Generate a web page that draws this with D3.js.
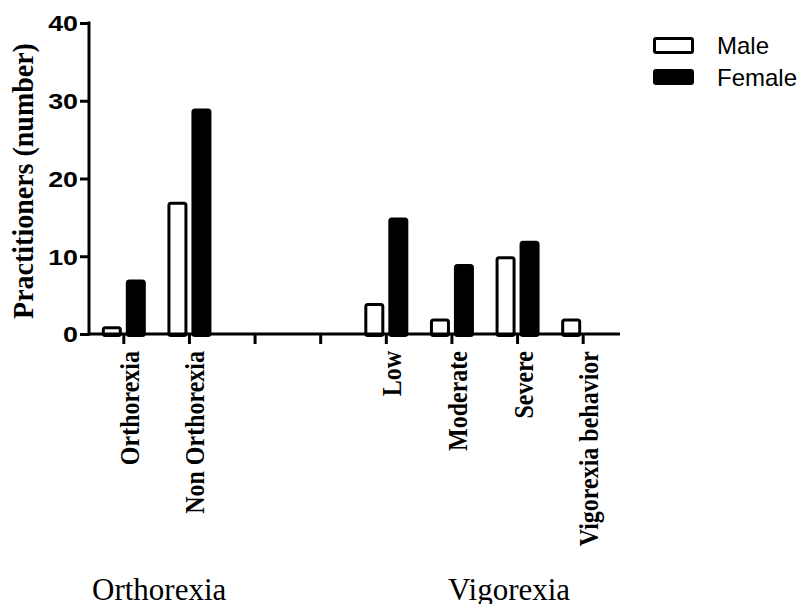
<!DOCTYPE html>
<html>
<head>
<meta charset="utf-8">
<script src="https://cdn.jsdelivr.net/npm/d3@7"></script>
<style>
  html, body { margin: 0; padding: 0; background: #fff; }
  svg { display: block; }
</style>
</head>
<body>
<svg id="chart" width="808" height="604"></svg>
<script>
// ---- data ----
const slots = ["Orthorexia", "Non Orthorexia", "_gap1", "_gap2", "Low", "Moderate", "Severe", "Vigorexia behavior"];
const maleValues   = [1, 17, null, null, 4, 2, 10, 2];
const femaleValues = [7, 29, null, null, 15, 9, 12, 0];
const seriesNames = ["Male", "Female"];
const yTicks = [0, 10, 20, 30, 40];
const groupLabels = ["Orthorexia", "Vigorexia"];

// ---- layout ----
const svg = d3.select("#chart");
const x = d3.scaleBand().domain(slots).range([91, 616]).paddingInner(0).paddingOuter(0);
const y = d3.scaleLinear().domain([0, 40]).range([334, 23]);
const axisX0 = 88, axisX1 = 620;
const serif = "'Liberation Serif', 'Times New Roman', serif";
const sans = "'Liberation Sans', Arial, sans-serif";

// bars
const barData = [];
slots.forEach((s, i) => {
  if (maleValues[i] != null && maleValues[i] > 0) barData.push({slot: s, series: 0, value: maleValues[i]});
  if (femaleValues[i] != null && femaleValues[i] > 0) barData.push({slot: s, series: 1, value: femaleValues[i]});
});
const sw = 3;
svg.append("g").selectAll("rect").data(barData).join("rect")
  .attr("x", d => {
    const c = x(d.slot) + x.bandwidth() / 2;
    return d.series === 0 ? c - 22 + sw / 2 : c + 2 + sw / 2;
  })
  .attr("y", d => y(d.value) + sw / 2)
  .attr("width", 20 - sw)
  .attr("height", d => y(0) - y(d.value))
  .attr("rx", 2)
  .attr("fill", d => d.series === 0 ? "#fff" : "#000")
  .attr("stroke", "#000")
  .attr("stroke-width", sw);

// y axis
const yAxis = d3.axisLeft(y).tickValues(yTicks).tickSize(9).tickPadding(3);
const gy = svg.append("g").attr("transform", `translate(89,0)`).call(yAxis);
gy.select(".domain").remove();
gy.append("line").attr("x1", 0).attr("x2", 0).attr("y1", y(40) - 1.5).attr("y2", y(0) + 1.5)
  .attr("stroke", "#000").attr("stroke-width", sw);
gy.selectAll(".tick line").attr("stroke", "#000").attr("stroke-width", sw);
gy.selectAll(".tick text")
  .attr("font-family", sans).attr("font-weight", "bold").attr("font-size", 22)
  .attr("fill", "#000").attr("dy", "0.36em")
  .attr("x", -11 / 1.22)
  .attr("transform", "scale(1.22,1)");

// x axis
const xAxis = d3.axisBottom(x).tickSize(10).tickFormat(() => "");
const gx = svg.append("g").attr("transform", `translate(0,${y(0)})`).call(xAxis);
gx.select(".domain").remove();
gx.append("line").attr("x1", axisX0).attr("x2", axisX1).attr("y1", 0).attr("y2", 0)
  .attr("stroke", "#000").attr("stroke-width", sw);
gx.selectAll(".tick line").attr("stroke", "#000").attr("stroke-width", sw);

// category labels (rotated)
svg.append("g").selectAll("text").data(slots.filter(s => !s.startsWith("_"))).join("text")
  .attr("transform", d => `translate(${x(d) + x.bandwidth() / 2 + 15},351) rotate(-90) scale(1,1.1)`)
  .attr("text-anchor", "end")
  .attr("font-family", serif).attr("font-weight", "bold").attr("font-size", 24)
  .attr("fill", "#000")
  .text(d => d);

// y axis title
svg.append("text")
  .attr("transform", `translate(33,181) rotate(-90) scale(1,1.05)`)
  .attr("text-anchor", "middle")
  .attr("font-family", serif).attr("font-weight", "bold").attr("font-size", 28)
  .attr("fill", "#000")
  .text("Practitioners (number)");

// group labels
const groupX = [92, 448];
svg.append("g").selectAll("text").data(groupLabels).join("text")
  .attr("x", (d, i) => groupX[i]).attr("y", 600)
  .attr("font-family", serif).attr("font-size", 31)
  .attr("fill", "#000")
  .text(d => d);

// legend
const lg = svg.append("g");
const legY = [38.5, 70.5];
const legH = [14, 13];
seriesNames.forEach((name, i) => {
  lg.append("rect").attr("x", 654.5).attr("y", legY[i]).attr("width", 38).attr("height", legH[i])
    .attr("rx", 1.5)
    .attr("fill", i === 0 ? "#fff" : "#000").attr("stroke", "#000").attr("stroke-width", sw);
  lg.append("text").attr("x", 717).attr("y", legY[i] + 15)
    .attr("font-family", sans).attr("font-size", 24).attr("fill", "#000")
    .text(name);
});
</script>
</body>
</html>
